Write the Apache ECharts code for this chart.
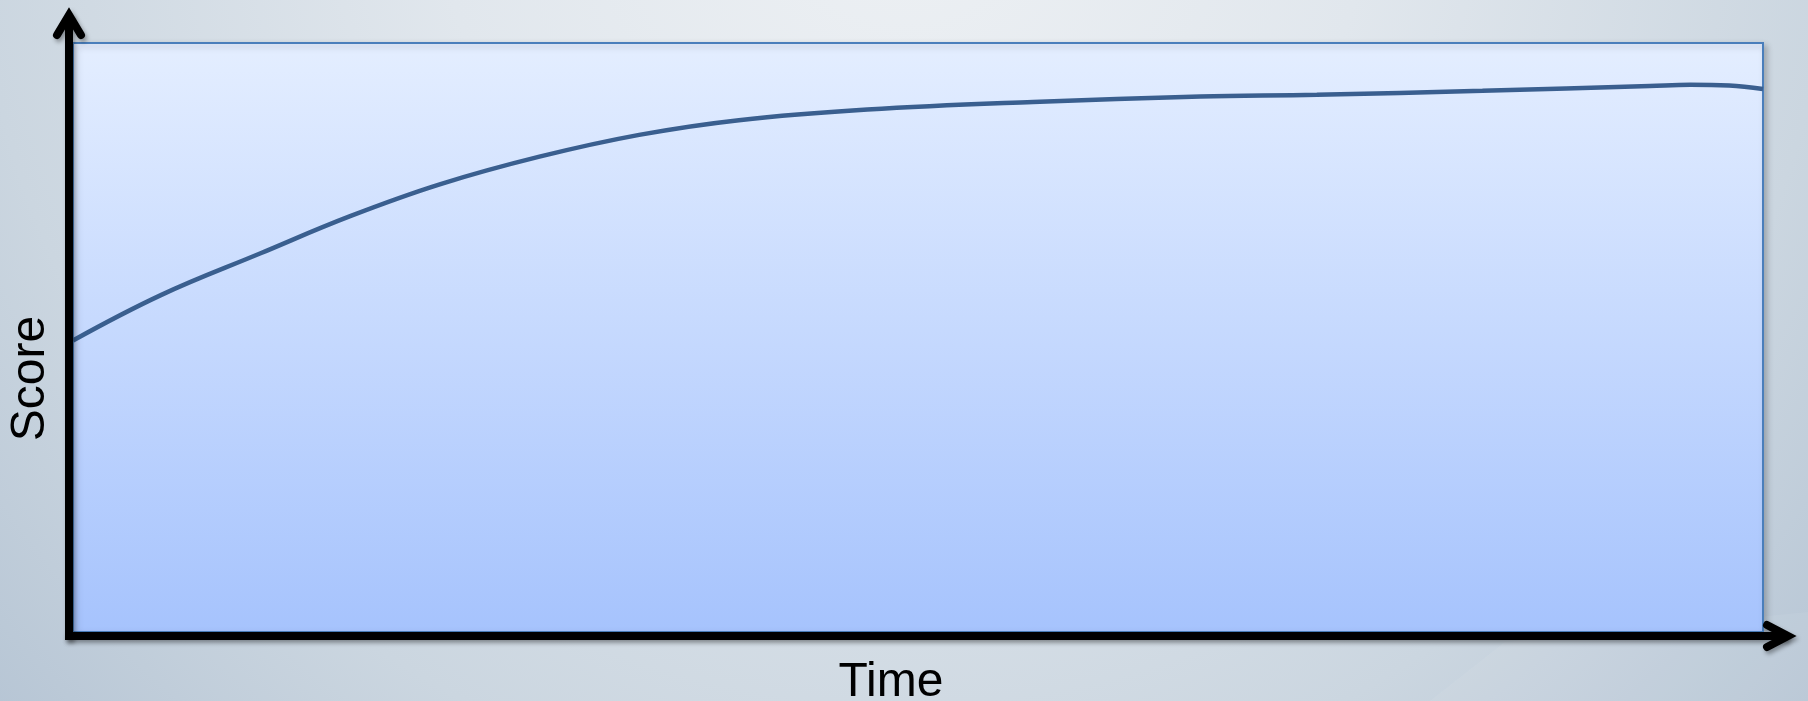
<!DOCTYPE html>
<html>
<head>
<meta charset="utf-8">
<script src="https://cdn.jsdelivr.net/npm/echarts@6/dist/echarts.min.js"></script>
<style>
html,body{margin:0;padding:0;width:1808px;height:701px;overflow:hidden;}
#chart{width:1808px;height:701px;}
</style>
</head>
<body>
<div id="chart"></div>
<script>
const xAxisName = 'Time';
const yAxisName = 'Score';
const timeValues  = [0, 5.2, 11.1, 16.4, 21.7, 27.6, 33.5, 39.4, 47.0, 56.8, 66.7, 73.6, 83.4, 93.3, 95.7, 98.0, 100];
const scoreValues = [49.5, 57.2, 64.3, 70.6, 76.0, 80.7, 84.4, 86.9, 88.7, 90.0, 90.9, 91.2, 91.9, 92.7, 92.9, 92.8, 92.2];

const seriesData = timeValues.map((t, i) => [t, scoreValues[i]]);

const chart = echarts.init(document.getElementById('chart'), null, {renderer: 'canvas'});
const font = "'Liberation Sans', Arial, sans-serif";

const option = {
  animation: false,
  backgroundColor: {
    type: 'radial', x: 904, y: -120, r: 1330, global: true,
    colorStops: [
      {offset: 0, color: '#eef1f4'},
      {offset: 0.35, color: '#e1e7ed'},
      {offset: 0.7, color: '#cbd6e0'},
      {offset: 1, color: '#b0c0d1'}
    ]
  },
  grid: {
    left: 73, right: 45, top: 43, bottom: 69,
    containLabel: false,
    outerBoundsMode: 'none',
    show: true,
    backgroundColor: {
      type: 'linear', x: 0, y: 0, x2: 0, y2: 1,
      colorStops: [
        {offset: 0, color: '#e4eeff'},
        {offset: 1, color: '#a6c3fd'}
      ]
    },
    borderColor: '#4a7ebb',
    borderWidth: 2,
    shadowColor: 'rgba(0,0,0,0.22)',
    shadowBlur: 6,
    shadowOffsetX: 3,
    shadowOffsetY: 3
  },
  xAxis: {
    type: 'value', min: 0, max: 100, offset: 4,
    name: xAxisName, nameLocation: 'middle', nameGap: 23,
    nameTextStyle: {fontFamily: font, fontSize: 48, color: '#000', lineHeight: 48, padding: [0, 54, 0, 0]},
    axisLine: {show: false}, axisTick: {show: false}, axisLabel: {show: false}, splitLine: {show: false}
  },
  yAxis: {
    type: 'value', min: 0, max: 100, offset: 4,
    name: yAxisName, nameLocation: 'middle', nameGap: 14,
    nameTextStyle: {fontFamily: font, fontSize: 48, color: '#000', lineHeight: 48, padding: [0, 82, 0, 0]},
    axisLine: {show: false}, axisTick: {show: false}, axisLabel: {show: false}, splitLine: {show: false}
  },
  series: [{
    type: 'line',
    data: seriesData,
    smooth: 0.4,
    showSymbol: false,
    symbol: 'none',
    lineStyle: {color: '#3a5f8f', width: 4.5},
    z: 5
  }]
};
chart.setOption(option);

// Axes with arrows, positioned from the grid's coordinate system
const p0 = chart.convertToPixel({gridIndex: 0}, [0, 0]);
const p1 = chart.convertToPixel({gridIndex: 0}, [100, 100]);
const ax = p0[0] - 4;   // y-axis line x
const ay = p0[1] + 4;   // x-axis line y
const shadow = {shadowBlur: 4, shadowColor: 'rgba(0,0,0,0.35)', shadowOffsetX: 2, shadowOffsetY: 3};
const lineStyle = Object.assign({stroke: '#000', lineWidth: 8, fill: null}, shadow);

chart.setOption({
  graphic: [
    {type: 'polyline', z: 100, shape: {points: [[ax, p0[1] + 8], [ax, p1[1] - 28]]},
      style: Object.assign({}, lineStyle, {lineCap: 'butt'})},
    {type: 'polyline', z: 100, shape: {points: [[ax - 12, p1[1] - 8], [ax, p1[1] - 28], [ax + 12, p1[1] - 8]]},
      style: Object.assign({}, lineStyle, {lineCap: 'round', lineJoin: 'miter', miterLimit: 10})},
    {type: 'polyline', z: 100, shape: {points: [[p0[0] - 8, ay], [p1[0] + 25, ay]]},
      style: Object.assign({}, lineStyle, {lineCap: 'butt'})},
    {type: 'polyline', z: 100, shape: {points: [[p1[0] + 4, ay - 11], [p1[0] + 25, ay], [p1[0] + 4, ay + 11]]},
      style: Object.assign({}, lineStyle, {lineCap: 'round', lineJoin: 'miter', miterLimit: 10})},
    {type: 'polygon', z: -1, silent: true, shape: {points: [[1430, 701], [1505, 642], [1808, 612], [1808, 701]]},
      style: {fill: 'rgba(255,255,255,0.06)'}}
  ]
});
</script>
</body>
</html>
